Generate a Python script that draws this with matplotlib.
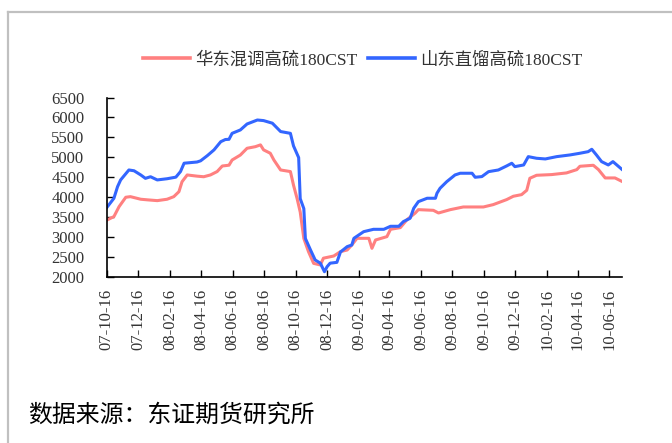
import matplotlib
matplotlib.use("Agg")
import matplotlib.pyplot as plt
import matplotlib.dates as mdates
from matplotlib.lines import Line2D
import pandas as pd

# ---- data ----
east_dates = ["2007-10-17", "2007-10-30", "2007-11-09", "2007-11-22", "2007-12-01", "2007-12-21",
              "2008-01-03", "2008-01-22", "2008-02-10", "2008-02-23", "2008-03-04", "2008-03-10",
              "2008-03-20", "2008-04-08", "2008-04-21", "2008-05-04", "2008-05-17", "2008-05-27",
              "2008-06-09", "2008-06-15", "2008-07-01", "2008-07-14", "2008-07-30", "2008-08-09",
              "2008-08-15", "2008-08-28", "2008-09-04", "2008-09-17", "2008-10-06", "2008-10-12",
              "2008-10-19", "2008-10-25", "2008-11-01", "2008-11-10", "2008-11-20", "2008-12-03",
              "2008-12-09", "2008-12-29", "2009-01-11", "2009-01-24", "2009-02-02", "2009-02-12",
              "2009-03-07", "2009-03-13", "2009-03-20", "2009-04-11", "2009-04-18", "2009-05-07",
              "2009-05-20", "2009-06-05", "2009-06-11", "2009-07-10", "2009-07-20", "2009-08-12",
              "2009-09-06", "2009-10-15", "2009-11-03", "2009-11-29", "2009-12-12", "2009-12-28",
              "2010-01-07", "2010-01-13", "2010-01-26", "2010-02-24", "2010-03-25", "2010-04-14",
              "2010-04-20", "2010-05-16", "2010-05-26", "2010-06-08", "2010-06-27", "2010-07-10"]
east_values = [3425, 3510, 3760, 3995, 4010, 3945,
               3930, 3910, 3945, 4010, 4135, 4385,
               4555, 4525, 4510, 4555, 4640, 4780,
               4800, 4930, 5055, 5225, 5265, 5310,
               5185, 5100, 4930, 4680, 4640, 4300,
               3960, 3625, 2960, 2630, 2335, 2295,
               2465, 2520, 2630, 2670, 2796, 2964,
               2964, 2713, 2922, 3006, 3190, 3232,
               3433, 3600, 3684, 3667, 3600, 3684,
               3751, 3751, 3810, 3936, 4020, 4061,
               4170, 4472, 4547, 4564, 4606, 4689,
               4773, 4798, 4689, 4480, 4480, 4396]

sd_dates = ["2007-10-17", "2007-10-30", "2007-11-06", "2007-11-12", "2007-11-28", "2007-12-08",
            "2007-12-21", "2007-12-30", "2008-01-09", "2008-01-22", "2008-02-10", "2008-02-27",
            "2008-03-07", "2008-03-14", "2008-04-08", "2008-04-15", "2008-04-28", "2008-05-11",
            "2008-05-24", "2008-06-02", "2008-06-09", "2008-06-15", "2008-07-01", "2008-07-14",
            "2008-08-03", "2008-08-15", "2008-09-01", "2008-09-17", "2008-10-06", "2008-10-12",
            "2008-10-22", "2008-10-25", "2008-11-01", "2008-11-04", "2008-11-14", "2008-11-23",
            "2008-12-03", "2008-12-11", "2008-12-16", "2008-12-22", "2009-01-04", "2009-01-11",
            "2009-01-24", "2009-02-02", "2009-02-06", "2009-02-25", "2009-03-16", "2009-04-05",
            "2009-04-18", "2009-05-04", "2009-05-13", "2009-05-26", "2009-06-02", "2009-06-11",
            "2009-06-28", "2009-07-14", "2009-07-17", "2009-07-23", "2009-08-05", "2009-08-21",
            "2009-08-31", "2009-09-23", "2009-09-29", "2009-10-12", "2009-10-25", "2009-11-13",
            "2009-11-29", "2009-12-09", "2009-12-15", "2010-01-01", "2010-01-10", "2010-01-26",
            "2010-02-12", "2010-03-06", "2010-04-01", "2010-04-20", "2010-05-06", "2010-05-13",
            "2010-05-22", "2010-06-01", "2010-06-14", "2010-06-23", "2010-07-10"]
sd_values = [3750, 3970, 4260, 4430, 4680, 4660,
             4555, 4470, 4510, 4430, 4460, 4500,
             4640, 4850, 4880, 4910, 5040, 5185,
             5390, 5445, 5450, 5600, 5685, 5835,
             5935, 5920, 5855, 5645, 5600, 5285,
             4990, 3960, 3710, 2960, 2670, 2420,
             2340, 2125, 2250, 2340, 2360, 2620,
             2755, 2796, 2964, 3131, 3190, 3190,
             3266, 3266, 3384, 3467, 3719, 3885,
             3970, 3970, 4095, 4221, 4387, 4555,
             4598, 4598, 4497, 4514, 4638, 4680,
             4781, 4849, 4764, 4806, 5015, 4974,
             4957, 5015, 5058, 5100, 5140, 5200,
             5058, 4890, 4806, 4890, 4700]

series_names = ["华东混调高硫180CST", "山东直馏高硫180CST"]
series_colors = ["#FF8080", "#3366FF"]
y_ticks = [2000, 2500, 3000, 3500, 4000, 4500, 5000, 5500, 6000, 6500]
x_start, x_end = "2007-10-16", "2010-07-10"
source_text = "数据来源：东证期货研究所"

# ---- figure ----
fig = plt.figure(figsize=(6.72, 4.43), dpi=100)
ax = fig.add_axes([106.7 / 672, 1 - 276.7 / 443, (621.7 - 106.7) / 672, (276.7 - 97.5) / 443])

ax.plot(pd.to_datetime(east_dates), east_values, color=series_colors[0], lw=2.2,
        label=series_names[0], solid_joinstyle="round")
ax.plot(pd.to_datetime(sd_dates), sd_values, color=series_colors[1], lw=2.2,
        label=series_names[1], solid_joinstyle="round")

ax.set_xlim(pd.Timestamp(x_start), pd.Timestamp(x_end))
ax.set_ylim(2000, 6500)
ax.set_yticks(y_ticks)
ax.xaxis.set_major_locator(mdates.MonthLocator(bymonth=[2, 4, 6, 8, 10, 12], bymonthday=16))
ax.xaxis.set_major_formatter(mdates.DateFormatter("%y-%m-%d"))

for s in ["top", "right"]:
    ax.spines[s].set_visible(False)
for s in ["left", "bottom"]:
    ax.spines[s].set_linewidth(1.2)
    ax.spines[s].set_color("black")

ax.tick_params(axis="both", direction="in", length=5, width=1.0, colors="black",
               labelcolor="#333333")
ax.tick_params(axis="y", pad=16)
for lab in ax.get_yticklabels():
    lab.set_fontfamily("Liberation Serif")
    lab.set_fontsize(12)
    lab.set_horizontalalignment("right")
for lab in ax.get_xticklabels():
    lab.set_fontfamily("Liberation Serif")
    lab.set_fontsize(12)
    lab.set_rotation(90)
    lab.set_horizontalalignment("center")
ax.tick_params(axis="x", pad=9)

leg = fig.legend(loc="center", bbox_to_anchor=(363 / 672, 1 - 60 / 443), ncol=2,
                 frameon=False, handlelength=2.7, handletextpad=0.3, columnspacing=0.6,
                 prop={"family": ["Liberation Serif", "Noto Sans CJK SC"], "size": 12.5})
for t in leg.get_texts():
    t.set_color("#333333")
for h in leg.legend_handles:
    h.set_linewidth(2.6)

fig.text(28 / 672, 1 - 415 / 443, source_text, fontsize=17.2, va="center", ha="left",
         family=["Noto Sans CJK SC", "DejaVu Sans"], color="black")

# outer frame
fig.add_artist(Line2D([7.5 / 672, 1.0], [1 - 12 / 443, 1 - 12 / 443], color="#C0C0C0", lw=1.6,
                      transform=fig.transFigure))
fig.add_artist(Line2D([7.5 / 672, 7.5 / 672], [1 - 12 / 443, 0.0], color="#C0C0C0", lw=1.6,
                      transform=fig.transFigure))

fig.savefig("out.png", dpi=100)
